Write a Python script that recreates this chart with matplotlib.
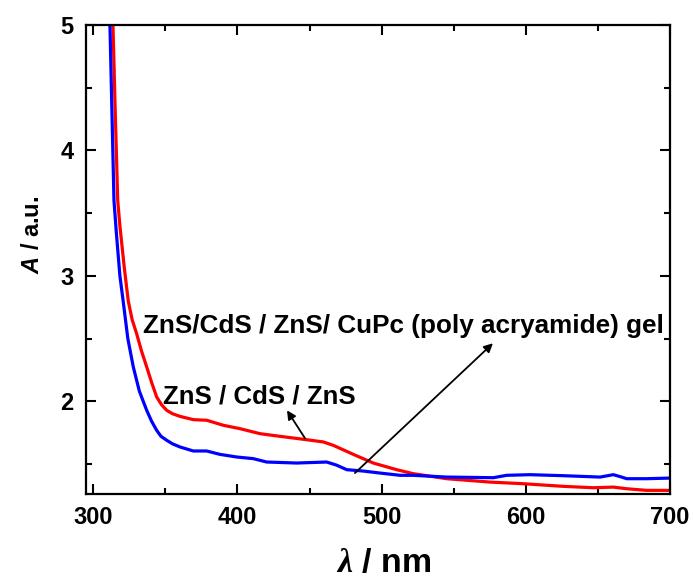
import matplotlib
matplotlib.use("Agg")
import matplotlib.pyplot as plt
from matplotlib.ticker import MultipleLocator

plt.rcParams['font.family'] = ['Liberation Sans', 'DejaVu Sans']
plt.rcParams['font.weight'] = 'bold'
plt.rcParams['mathtext.fontset'] = 'custom'
plt.rcParams['mathtext.it'] = 'Liberation Sans:italic:bold'
plt.rcParams['mathtext.sf'] = 'Liberation Serif:italic'
plt.rcParams['mathtext.rm'] = 'Liberation Sans:bold'

# ZnS/CdS/ZnS (blue)
blue_x = [311.0, 311.6, 313.0, 314.4, 316.0, 318.5, 320.7, 324.0, 327.8, 332.0, 337.1, 340.5,
          344.0, 347.0, 351.0, 355.0, 360.2, 369.4, 378.7, 387.9, 399.5, 411.0, 420.3, 441.1,
          461.9, 468.8, 475.8, 487.3, 498.9, 512.8, 522.0, 545.1, 577.5, 586.7, 602.9, 626.0,
          651.5, 660.7, 665.0, 670.0, 683.8, 700.0]
blue_y = [5.30, 5.00, 4.30, 3.60, 3.35, 3.00, 2.805, 2.50, 2.273, 2.08, 1.927, 1.84,
          1.768, 1.72, 1.688, 1.66, 1.635, 1.603, 1.603, 1.576, 1.555, 1.542, 1.515, 1.507,
          1.515, 1.490, 1.454, 1.443, 1.427, 1.409, 1.409, 1.395, 1.390, 1.409, 1.414, 1.406,
          1.395, 1.414, 1.400, 1.382, 1.382, 1.387]

# ZnS/CdS/ZnS/CuPc (poly acryamide) gel (red)
red_x = [313.2, 313.7, 315.3, 317.0, 318.5, 321.5, 324.3, 327.0, 330.1, 333.5, 337.1, 340.5,
         344.0, 347.5, 351.0, 355.0, 360.2, 369.4, 378.7, 390.2, 401.8, 415.7, 429.5, 448.0,
         459.6, 466.5, 480.4, 494.2, 510.4, 522.0, 545.1, 575.2, 598.3, 626.0, 646.8, 660.7,
         670.0, 683.8, 700.0]
red_y = [5.30, 5.00, 4.30, 3.60, 3.40, 3.07, 2.80, 2.65, 2.539, 2.40, 2.273, 2.15,
         2.034, 1.97, 1.927, 1.90, 1.879, 1.853, 1.848, 1.808, 1.781, 1.741, 1.720, 1.693,
         1.675, 1.648, 1.576, 1.507, 1.454, 1.422, 1.382, 1.355, 1.342, 1.321, 1.310, 1.315,
         1.302, 1.289, 1.289]

x_ticks = [300, 400, 500, 600, 700]
y_ticks = [2, 3, 4, 5]

label_big = "ZnS/CdS / ZnS/ CuPc (poly acryamide) gel"
label_small = "ZnS / CdS / ZnS"

fig = plt.figure(figsize=(6.93, 5.81), dpi=100)
ax = fig.add_axes([86/693, 1-494/581, (670-86)/693, (494-25)/581])

ax.plot(red_x, red_y, color='#ff0000', lw=2.3, solid_joinstyle='round')
ax.plot(blue_x, blue_y, color='#0000ff', lw=2.3, solid_joinstyle='round')

ax.set_xlim(295, 700)
ax.set_ylim(1.26, 5)
ax.set_xticks(x_ticks)
ax.set_yticks(y_ticks)
ax.xaxis.set_minor_locator(MultipleLocator(50))
ax.yaxis.set_minor_locator(MultipleLocator(0.5))
ax.tick_params(which='both', direction='in', top=True, right=True, width=1.5)
ax.tick_params(which='major', length=7, labelsize=17, pad=9)
ax.tick_params(which='minor', length=4)
for t in ax.get_xticklabels() + ax.get_yticklabels():
    t.set_fontweight('bold')
for s in ax.spines.values():
    s.set_linewidth(1.6)

ax.set_xlabel(r'$\mathsf{\lambda}$ / nm', fontsize=24.5, fontweight='bold')
ax.xaxis.set_label_coords(0.509, -0.115)
ax.set_ylabel(r'$A$ / a.u.', fontsize=17, fontweight='bold')
ax.yaxis.set_label_coords(-0.072, 0.552)

ax.text(334.5, 2.542, label_big, fontsize=18.8, fontweight='bold', ha='left', va='baseline')
ax.text(348.4, 1.983, label_small, fontsize=18.6, fontweight='bold', ha='left', va='baseline')

ap = dict(arrowstyle='-|>', color='black', lw=1.3, mutation_scale=13, shrinkA=0, shrinkB=0)
ax.annotate('', xy=(434.4, 1.927), xytext=(446.9, 1.704), arrowprops=ap)
ax.annotate('', xy=(577.2, 2.462), xytext=(481.5, 1.427), arrowprops=ap)

fig.savefig('out.png', dpi=100)
